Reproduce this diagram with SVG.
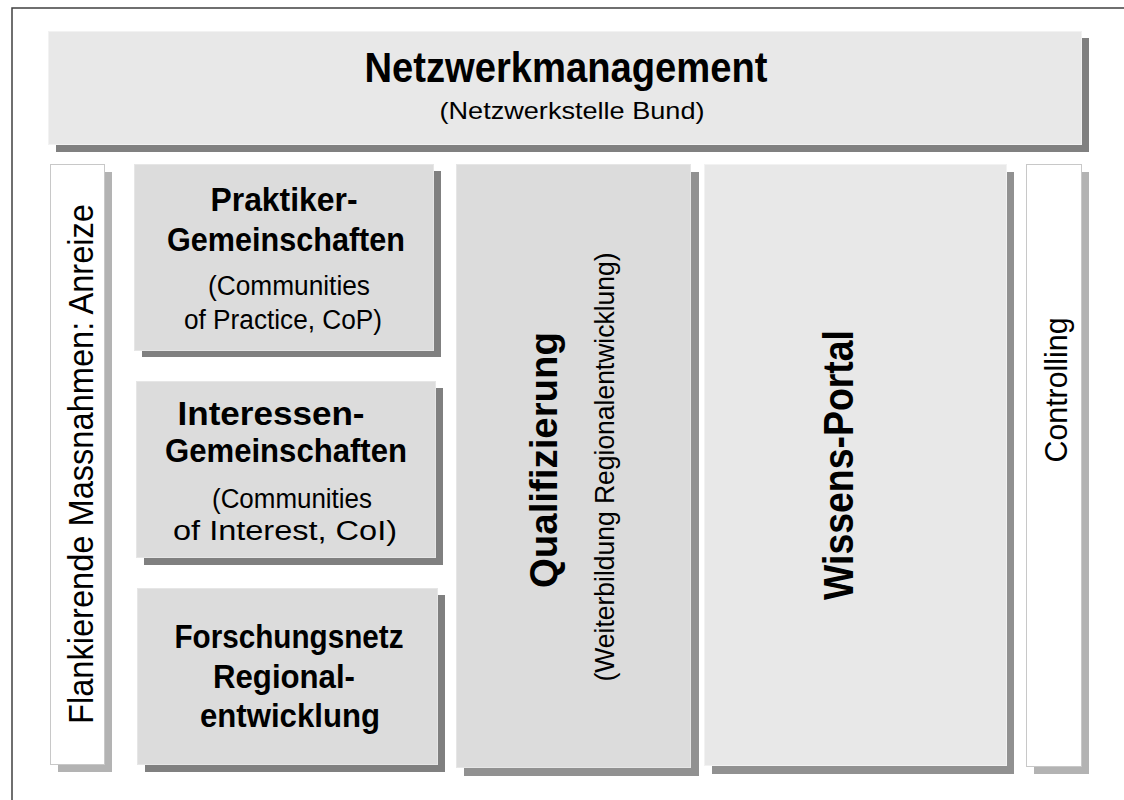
<svg xmlns="http://www.w3.org/2000/svg" width="1124" height="800" viewBox="0 0 1124 800">
  <style>
    .frame { fill: none; stroke: #404040; stroke-width: 1.5; }
    .sh-dark { fill: #808080; }
    .sh-mid { fill: #919191; }
    .sh-light { fill: #b3b3b3; }
    .box-a { fill: #e8e8e8; stroke: #f2f2f2; stroke-width: 1; }
    .box-b { fill: #dcdcdc; stroke: #e6e6e6; stroke-width: 1; }
    .box-w { fill: #ffffff; stroke: #c8c8c8; stroke-width: 1; }
    text { font-family: "Liberation Sans", Arial, Helvetica, sans-serif; fill: #000000; text-anchor: middle; }
    .b { font-weight: bold; }
  </style>

  <rect width="1124" height="800" fill="#ffffff"/>
  <!-- page frame (left and top edges) -->
  <path class="frame" d="M12,800 V8 H1124"/>

  <!-- header -->
  <g id="netzwerkmanagement">
    <rect class="sh-dark" x="56" y="38" width="1033" height="114"/>
    <rect class="box-a" x="48.5" y="31.5" width="1033" height="113"/>
    <text class="b" x="566" y="82" font-size="43" textLength="403" lengthAdjust="spacingAndGlyphs">Netzwerkmanagement</text>
    <text x="572" y="119" font-size="24" textLength="265" lengthAdjust="spacingAndGlyphs">(Netzwerkstelle Bund)</text>
  </g>

  <!-- left flank -->
  <g id="flankierende-massnahmen">
    <rect class="sh-light" x="58" y="172" width="54" height="600"/>
    <rect class="box-w" x="50.5" y="164.5" width="54" height="600"/>
    <text transform="translate(93,464) rotate(-90)" font-size="35" textLength="520" lengthAdjust="spacingAndGlyphs">Flankierende Massnahmen: Anreize</text>
  </g>

  <g id="praktiker-gemeinschaften">
    <rect class="sh-dark" x="142" y="171" width="299" height="186"/>
    <rect class="box-b" x="134.5" y="164.5" width="299" height="186"/>
    <text class="b" x="284" y="211" font-size="34" textLength="147" lengthAdjust="spacingAndGlyphs">Praktiker-</text>
    <text class="b" x="286" y="251" font-size="34" textLength="238" lengthAdjust="spacingAndGlyphs">Gemeinschaften</text>
    <text x="289" y="295" font-size="27" textLength="162" lengthAdjust="spacingAndGlyphs">(Communities</text>
    <text x="283" y="329" font-size="27" textLength="198" lengthAdjust="spacingAndGlyphs">of Practice, CoP)</text>
  </g>

  <g id="interessen-gemeinschaften">
    <rect class="sh-dark" x="144" y="388" width="299" height="177"/>
    <rect class="box-b" x="136.5" y="381.5" width="299" height="176"/>
    <text class="b" x="271" y="425" font-size="34" textLength="187" lengthAdjust="spacingAndGlyphs">Interessen-</text>
    <text class="b" x="286" y="462" font-size="34" textLength="242" lengthAdjust="spacingAndGlyphs">Gemeinschaften</text>
    <text x="292" y="508" font-size="27" textLength="160" lengthAdjust="spacingAndGlyphs">(Communities</text>
    <text x="285" y="540" font-size="27" textLength="224" lengthAdjust="spacingAndGlyphs">of Interest, CoI)</text>
  </g>

  <g id="forschungsnetz">
    <rect class="sh-dark" x="145" y="595" width="300" height="177"/>
    <rect class="box-b" x="137.5" y="588.5" width="300" height="176"/>
    <text class="b" x="289" y="648" font-size="34" textLength="229" lengthAdjust="spacingAndGlyphs">Forschungsnetz</text>
    <text class="b" x="284" y="688" font-size="34" textLength="142" lengthAdjust="spacingAndGlyphs">Regional-</text>
    <text class="b" x="290" y="727" font-size="34" textLength="180" lengthAdjust="spacingAndGlyphs">entwicklung</text>
  </g>

  <g id="qualifizierung">
    <rect class="sh-mid" x="464" y="172" width="235" height="604"/>
    <rect class="box-b" x="456.5" y="164.5" width="234" height="603"/>
    <text class="b" transform="translate(557,460) rotate(-90)" font-size="38" textLength="256" lengthAdjust="spacingAndGlyphs">Qualifizierung</text>
    <text transform="translate(614,467) rotate(-90)" font-size="27" textLength="429" lengthAdjust="spacingAndGlyphs">(Weiterbildung Regionalentwicklung)</text>
  </g>

  <g id="wissens-portal">
    <rect class="sh-mid" x="712" y="172" width="302" height="602"/>
    <rect class="box-a" x="704.5" y="164.5" width="302" height="601"/>
    <text class="b" transform="translate(853,465) rotate(-90)" font-size="43" textLength="270" lengthAdjust="spacingAndGlyphs">Wissens-Portal</text>
  </g>

  <g id="controlling">
    <rect class="sh-light" x="1034" y="172" width="55" height="602"/>
    <rect class="box-w" x="1026.5" y="164.5" width="55" height="602"/>
    <text transform="translate(1067,390) rotate(-90)" font-size="32" textLength="145" lengthAdjust="spacingAndGlyphs">Controlling</text>
  </g>

  <!-- no connectors in this figure -->
  <g id="connectors"/>
</svg>
